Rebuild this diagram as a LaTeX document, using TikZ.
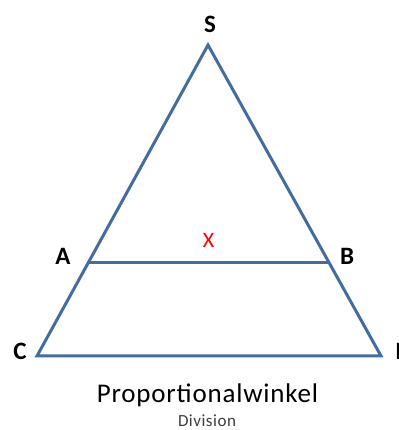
\documentclass[tikz,border=0pt]{standalone}
\usepackage{fontspec}
\setmainfont{Carlito}
\definecolor{edge}{RGB}{68,108,158}
\definecolor{capgray}{RGB}{60,60,60}
\begin{document}
\begin{tikzpicture}[x=1pt,y=1pt,
  seg/.style={draw=edge,line width=3pt,line join=miter},
  vlab/.style={anchor=base,font=\fontsize{25}{30}\selectfont\bfseries},
  mid/.style={anchor=base,text=red,font=\fontsize{22}{26}\selectfont}]
\useasboundingbox (0,0) rectangle (398,430);
\coordinate (S) at (208,385);
\coordinate (C) at (37,74);
\coordinate (D) at (381,74);
\coordinate (A) at (88.1,167);
\coordinate (B) at (329.3,167);
\draw[seg] (C) -- (S) -- (D) -- cycle;
\draw[seg] (A) -- (B);
\node[vlab] (lS) at (210,397) {S};
\node[vlab] (lA) at (63,165) {A};
\node[vlab] (lB) at (347,165) {B};
\node[vlab] (lC) at (20,70) {C};
\node[vlab,anchor=base west] (lD) at (392,70) {D};
\node[mid] (lX) at (208.5,182) {X};
\node[anchor=base,font=\fontsize{27}{32}\selectfont\addfontfeature{LetterSpace=3}] (title) at (207.5,27) {Proportionalwinkel};
\node[anchor=base,text=capgray,font=\fontsize{17}{20}\selectfont\addfontfeature{LetterSpace=3}] (sub) at (207,3) {Division};
\end{tikzpicture}
\end{document}
